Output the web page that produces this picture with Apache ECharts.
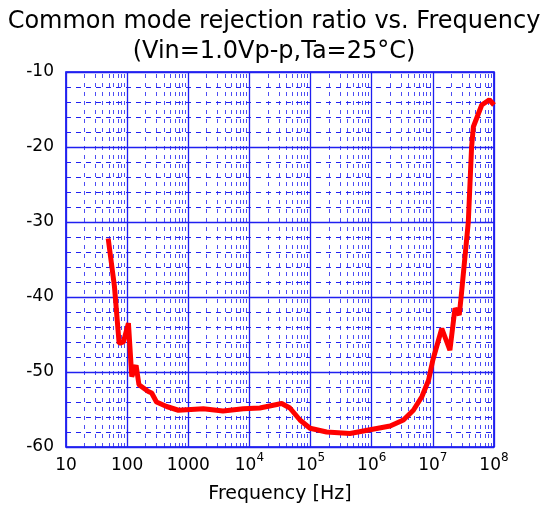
<!DOCTYPE html>
<html>
<head>
<meta charset="utf-8">
<script src="https://cdn.jsdelivr.net/npm/echarts@6/dist/echarts.min.js"></script>
<style>
html, body { margin: 0; padding: 0; background: #fff; }
#myChart { width: 548px; height: 509px; }
</style>
</head>
<body>
<div id="myChart"></div>
<script>
// 频率 (Hz)
var freqList = [49, 62, 74, 87, 105, 119, 140, 156, 222, 252, 302, 443, 688, 1760, 3700, 7940, 14800,
    33700, 45900, 67000, 98000, 183000, 441000, 940000, 2.0e6, 3.3e6, 4.8e6, 6.6e6, 8.5e6, 1.0e7,
    1.4e7, 1.9e7, 2.3e7, 2.7e7, 2.9e7, 3.8e7, 4.3e7, 4.6e7, 6.3e7, 8.4e7, 1.0e8];
// CMRR (dB)
var cmrrList = [-32.2, -38.6, -46.2, -46.0, -43.5, -50.6, -49.1, -51.7, -52.6, -52.8, -54.0, -54.6, -55.1, -54.9, -55.2, -54.9, -54.8,
    -54.2, -54.8, -56.4, -57.5, -58.0, -58.2, -57.7, -57.2, -56.4, -55.1, -53.3, -51.1, -48.4,
    -44.2, -47.1, -41.5, -42.4, -40.0, -30.0, -20.0, -17.3, -14.4, -13.7, -14.4];
// 坐标轴
var yTicks = [-60, -50, -40, -30, -20, -10];
var xDecades = [1, 2, 3, 4, 5, 6, 7, 8];

var gridColor = '#2020f0';
var fontName = 'DejaVu Sans';

//副网格线 (2..9 x 10^n)
function getMinorLines() {
    var lines = [];
    for (var d = 1; d < 8; d++) {
        for (var k = 2; k <= 9; k++) {
            lines.push({xAxis: Math.log10(k) + d});
        }
    }
    return lines;
}

function getSeriesData() {
    var data = [];
    for (var i = 0; i < freqList.length; i++) {
        data.push([Math.log10(freqList[i]), cmrrList[i]]);
    }
    return data;
}

var option = {
    animation: false,
    title: {
        text: 'Common mode rejection ratio vs. Frequency\n(Vin=1.0Vp-p,Ta=25°C)',
        left: 'center',
        top: 2,
        textStyle: {
            fontFamily: fontName,
            fontSize: 24,
            fontWeight: 'normal',
            color: '#000',
            lineHeight: 30
        }
    },
    grid: {
        left: 66,
        right: 54,
        top: 72,
        bottom: 62,
        show: true,
        borderColor: '#0000ee',
        borderWidth: 1.6
    },
    xAxis: {
        type: 'value',
        min: xDecades[0],
        max: xDecades[xDecades.length - 1],
        interval: 1,
        name: 'Frequency [Hz]',
        nameLocation: 'middle',
        nameGap: 38,
        nameTextStyle: {
            fontFamily: fontName,
            fontSize: 19,
            color: '#000'
        },
        axisLine: {show: false},
        axisTick: {show: false},
        splitLine: {
            show: true,
            lineStyle: {color: gridColor, width: 1.3, type: 'solid'}
        },
        axisLabel: {
            margin: 5,
            color: '#000',
            formatter: function (value) {
                if (value <= 3) {
                    return '{b|' + Math.pow(10, value) + '}';
                }
                return '{b|10}{s|' + value + '}';
            },
            rich: {
                b: {fontFamily: fontName, fontSize: 17, color: '#000', lineHeight: 22, verticalAlign: 'bottom'},
                s: {fontFamily: fontName, fontSize: 12, color: '#000', lineHeight: 22, verticalAlign: 'top'}
            }
        }
    },
    yAxis: {
        type: 'value',
        min: yTicks[0],
        max: yTicks[yTicks.length - 1],
        interval: 10,
        axisLine: {show: false},
        axisTick: {show: false},
        minorTick: {show: false, splitNumber: 5},
        splitLine: {
            show: true,
            lineStyle: {color: gridColor, width: 1.3, type: 'solid'}
        },
        minorSplitLine: {
            show: true,
            lineStyle: {color: gridColor, width: 1, type: [5, 5]}
        },
        axisLabel: {
            margin: 12,
            fontFamily: fontName,
            fontSize: 17,
            color: '#000'
        }
    },
    series: [{
        type: 'line',
        data: [],
        silent: true,
        markLine: {
            silent: true,
            symbol: ['none', 'none'],
            label: {show: false},
            lineStyle: {color: gridColor, width: 1, type: [4, 5], opacity: 0.8},
            data: getMinorLines()
        }
    }, {
        name: 'CMRR',
        type: 'line',
        data: getSeriesData(),
        showSymbol: false,
        smooth: false,
        lineStyle: {color: '#ff0000', width: 5},
        z: 5
    }]
};
var myChart = echarts.init(document.getElementById('myChart'));
myChart.setOption(option);
</script>
</body>
</html>
